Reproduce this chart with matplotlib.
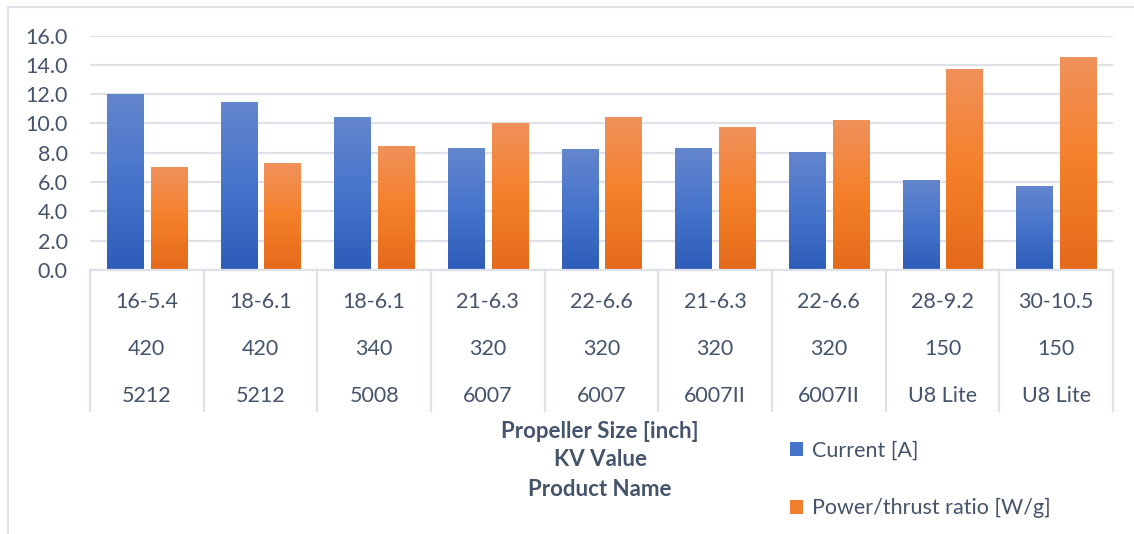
import numpy as np
import matplotlib.pyplot as plt
from matplotlib.colors import LinearSegmentedColormap
from matplotlib.patches import Patch
from matplotlib.lines import Line2D

# data
prop_size = ['16-5.4', '18-6.1', '18-6.1', '21-6.3', '22-6.6', '21-6.3', '22-6.6', '28-9.2', '30-10.5']
kv_value = ['420', '420', '340', '320', '320', '320', '320', '150', '150']
product = ['5212', '5212', '5008', '6007', '6007', '6007II', '6007II', 'U8 Lite', 'U8 Lite']
current = [12.0, 11.4, 10.4, 8.3, 8.2, 8.3, 8.0, 6.1, 5.7]
pt_ratio = [7.0, 7.3, 8.4, 10.0, 10.4, 9.7, 10.2, 13.7, 14.5]

plt.rcParams['font.family'] = ['Lato', 'DejaVu Sans']
txt = '#44546A'
grid_c = '#DEE2E8'
fs = 15.5

blue_cm = LinearSegmentedColormap.from_list('b', ['#2D5DB9', '#4674CB', '#6486CD'])
orange_cm = LinearSegmentedColormap.from_list('o', ['#E46A1A', '#F58029', '#F0915B'])

fig = plt.figure(figsize=(11.34, 5.34), dpi=100)
W, H = 1134, 534
ax = fig.add_axes([90 / W, 1 - 270 / H, (1113 - 90) / W, (270 - 35.5) / H])

x = np.arange(len(product))
bw, off = 0.317, 0.193
grad = np.linspace(0, 1, 256).reshape(-1, 1)
for xi, c, p in zip(x, current, pt_ratio):
    for xc, v, cm in ((xi - off, c, blue_cm), (xi + off, p, orange_cm)):
        ax.imshow(grad, cmap=cm, extent=[xc - bw / 2, xc + bw / 2, 0, v],
                  origin='lower', aspect='auto', zorder=2)

ax.set_xlim(-0.5, len(product) - 0.5)
ax.set_ylim(0, 16)
ax.set_yticks(np.arange(0, 17, 2))
ax.set_yticklabels([f'{v:.1f}' for v in np.arange(0, 17, 2)], fontsize=fs, color=txt)
ax.tick_params(axis='y', length=0, pad=16)
ax.set_xticks([])
ax.grid(axis='y', color=grid_c, lw=1.6, zorder=0)
for s in ax.spines.values():
    s.set_visible(False)

# multi-level category table below the axis
tr = ax.get_xaxis_transform()
ax.plot([-0.5, len(product) - 0.5], [0, 0], color=grid_c, lw=1.6, transform=tr, clip_on=False)
for b in np.arange(-0.5, len(product)):
    ax.plot([b, b], [0, -0.601], color=grid_c, lw=1.6, transform=tr, clip_on=False)
for row, yy in ((prop_size, -0.1365), (kv_value, -0.337), (product, -0.537)):
    for xi, lab in zip(x, row):
        ax.text(xi, yy, lab, transform=tr, ha='center', va='center', fontsize=fs, color=txt)

# axis title
for t, yp in (('Propeller Size [inch]', 431), ('KV Value', 460), ('Product Name', 489)):
    fig.text(600 / W, 1 - yp / H, t, ha='center', va='center', fontsize=16,
             fontweight='bold', color=txt)

# legend
handles = [Patch(facecolor='#4674CB'), Patch(facecolor='#F07F30')]
fig.legend(handles, ['Current [A]', 'Power/thrust ratio [W/g]'],
           loc='upper left', bbox_to_anchor=(790 / W, 1 - 441 / H), frameon=False,
           fontsize=fs, labelcolor=txt, handlelength=0.62, handleheight=0.62,
           handletextpad=0.4, labelspacing=1.72, borderaxespad=0, borderpad=0)

# chart frame
fig.add_artist(Line2D([7.5 / W, 7.5 / W], [0, 1 - 7 / H], color=grid_c, lw=1.5))
fig.add_artist(Line2D([7.5 / W, 1], [1 - 7 / H, 1 - 7 / H], color=grid_c, lw=1.5))

fig.savefig('out.png', dpi=100)
